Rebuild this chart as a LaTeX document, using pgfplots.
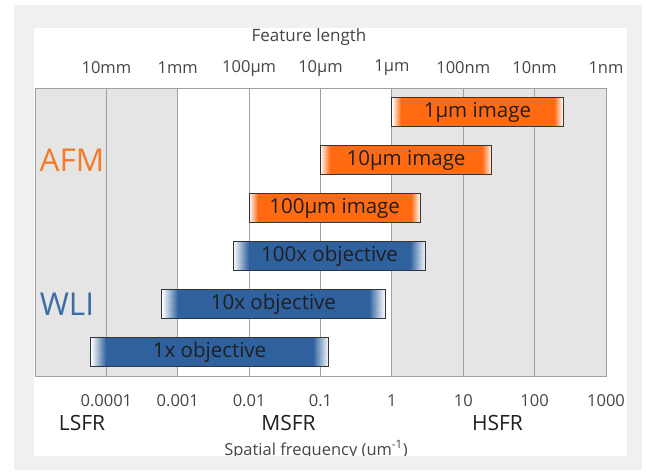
\documentclass[border=0pt]{standalone}
\usepackage{fontspec}
\setmainfont{Open Sans}
\setsansfont{Open Sans}
\usepackage{pgfplots}
\pgfplotsset{compat=1.18}
\definecolor{orangeC}{HTML}{FF6A12}
\definecolor{blueC}{HTML}{2E619E}
\definecolor{afmC}{HTML}{F47A28}
\definecolor{wliC}{HTML}{3A6CA6}
\definecolor{bandC}{HTML}{E5E5E5}
\definecolor{gridC}{HTML}{A0A0A0}
\definecolor{frameC}{HTML}{F0F0F0}
\definecolor{outC}{HTML}{353535}
\definecolor{lblC}{HTML}{454545}
\pgfplotsset{
  colormap={fadeorangeC}{color=(white) color=(orangeC)},
  colormap={fadeblueC}{color=(white) color=(blueC)},
}
% #1 colour, #2 a, #3 a*f, #4 b/f, #5 b, #6 y0, #7 y1, #8 centre x, #9 text
\newcommand{\gbar}[9]{%
  \addplot[fill=#1, draw=none] coordinates {(#2,#6) (#5,#6) (#5,#7) (#2,#7)} -- cycle;
  \addplot[patch, patch type=rectangle, shader=interp, colormap name=fade#1,
    point meta=explicit, point meta min=0, point meta max=1]
    coordinates {(#2,#6) [0] (#3,#6) [1] (#3,#7) [1] (#2,#7) [0]};
  \addplot[patch, patch type=rectangle, shader=interp, colormap name=fade#1,
    point meta=explicit, point meta min=0, point meta max=1]
    coordinates {(#4,#6) [1] (#5,#6) [0] (#5,#7) [0] (#4,#7) [1]};
  \addplot[draw=outC, line width=0.9pt] coordinates {(#2,#6) (#5,#6) (#5,#7) (#2,#7)} -- cycle;
  \node[font=\fontsize{20.5}{23}\selectfont, text=black!88] at (axis cs:#8,{(#6+#7)/2}) {#9};
}
\begin{document}
\begin{tikzpicture}
\useasboundingbox (0,0) rectangle (646pt,475pt);
\fill[white] (0,0) rectangle (646pt,475pt);
\fill[frameC] (14pt,5pt) rectangle (642pt,470pt);
\fill[white] (34pt,19pt) rectangle (627pt,447pt);
\begin{axis}[
  at={(35pt,99pt)}, anchor=south west,
  scale only axis, width=571pt, height=288pt,
  xmode=log, xmin=1e-5, xmax=1000, ymin=0, ymax=6,
  xtick={1e-5,1e-4,1e-3,1e-2,1e-1,1,10,100,1000},
  xticklabels={,0.0001,0.001,0.01,0.1,1,10,100,1000},
  ytick=\empty,
  minor xtick={}, minor tick num=0,
  major tick length=0pt, minor tick length=0pt,
  axis on top,
  axis line style={draw=gridC, line width=0.8pt},
  xticklabel style={font=\fontsize{16.5}{19}\selectfont, text=lblC, anchor=center, yshift=-25pt},
  clip=false,
]
% frequency bands
\addplot[fill=bandC, draw=none] coordinates {(1e-5,0) (1e-3,0) (1e-3,6) (1e-5,6)} -- cycle;
\addplot[fill=bandC, draw=none] coordinates {(1,0) (1000,0) (1000,6) (1,6)} -- cycle;
% decade grid lines
\addplot[gridC, line width=0.9pt] coordinates {(1e-4,0) (1e-4,6)};
\addplot[gridC, line width=0.9pt] coordinates {(1e-3,0) (1e-3,6)};
\addplot[gridC, line width=0.9pt] coordinates {(1e-2,0) (1e-2,6)};
\addplot[gridC, line width=0.9pt] coordinates {(1e-1,0) (1e-1,6)};
\addplot[gridC, line width=0.9pt] coordinates {(1,0) (1,6)};
\addplot[gridC, line width=0.9pt] coordinates {(10,0) (10,6)};
\addplot[gridC, line width=0.9pt] coordinates {(100,0) (100,6)};
% orange (AFM)
\gbar{orangeC}{1}{1.35}{185}{250}{5.2}{5.8}{15.8}{1µm image}
\gbar{orangeC}{0.1}{0.135}{18.5}{25}{4.2}{4.8}{1.58}{10µm image}
\gbar{orangeC}{0.01}{0.0135}{1.85}{2.5}{3.2}{3.8}{0.158}{100µm image}
% blue (WLI)
\gbar{blueC}{0.006}{0.0100}{1.8}{3}{2.2}{2.8}{0.134}{100x objective}
\gbar{blueC}{0.0006}{0.00100}{0.48}{0.8}{1.2}{1.8}{0.0219}{10x objective}
\gbar{blueC}{6e-5}{1.0e-4}{0.078}{0.13}{0.2}{0.8}{0.00279}{1x objective}
\node[font=\fontsize{31.5}{34}\selectfont, text=afmC] at (axis cs:3.3e-5,4.5) {AFM};
\node[font=\fontsize{31.5}{34}\selectfont, text=wliC] at (axis cs:2.8e-5,1.5) {WLI};
% top axis: feature length
\node[font=\fontsize{16.5}{19}\selectfont, text=lblC] at (axis cs:1e-4,6) [yshift=20pt] {10mm};
\node[font=\fontsize{16.5}{19}\selectfont, text=lblC] at (axis cs:1e-3,6) [yshift=20pt] {1mm};
\node[font=\fontsize{16.5}{19}\selectfont, text=lblC] at (axis cs:1e-2,6) [yshift=20pt] {100µm};
\node[font=\fontsize{16.5}{19}\selectfont, text=lblC] at (axis cs:1e-1,6) [yshift=20pt] {10µm};
\node[font=\fontsize{16.5}{19}\selectfont, text=lblC] at (axis cs:1,6) [yshift=20pt] {1µm};
\node[font=\fontsize{16.5}{19}\selectfont, text=lblC] at (axis cs:10,6) [yshift=20pt] {100nm};
\node[font=\fontsize{16.5}{19}\selectfont, text=lblC] at (axis cs:100,6) [yshift=20pt] {10nm};
\node[font=\fontsize{16.5}{19}\selectfont, text=lblC] at (axis cs:1000,6) [yshift=20pt] {1nm};
\end{axis}
\node[font=\fontsize{17}{20}\selectfont, text=lblC] at (309pt,438.3pt) {Feature length};
\node[font=\fontsize{21}{24}\selectfont, text=black!88] at (82pt,52pt) {LSFR};
\node[font=\fontsize{21}{24}\selectfont, text=black!88] at (288.5pt,52pt) {MSFR};
\node[font=\fontsize{21}{24}\selectfont, text=black!88] at (497.5pt,52pt) {HSFR};
\node[font=\fontsize{16.5}{19}\selectfont, text=lblC, anchor=base] at (316pt,20pt) {Spatial frequency (um\textsuperscript{-1})};
\fill[frameC] (14pt,5pt) rectangle (642pt,19pt);
\fill[white] (0,0) rectangle (646pt,5pt);
\end{tikzpicture}
\end{document}
